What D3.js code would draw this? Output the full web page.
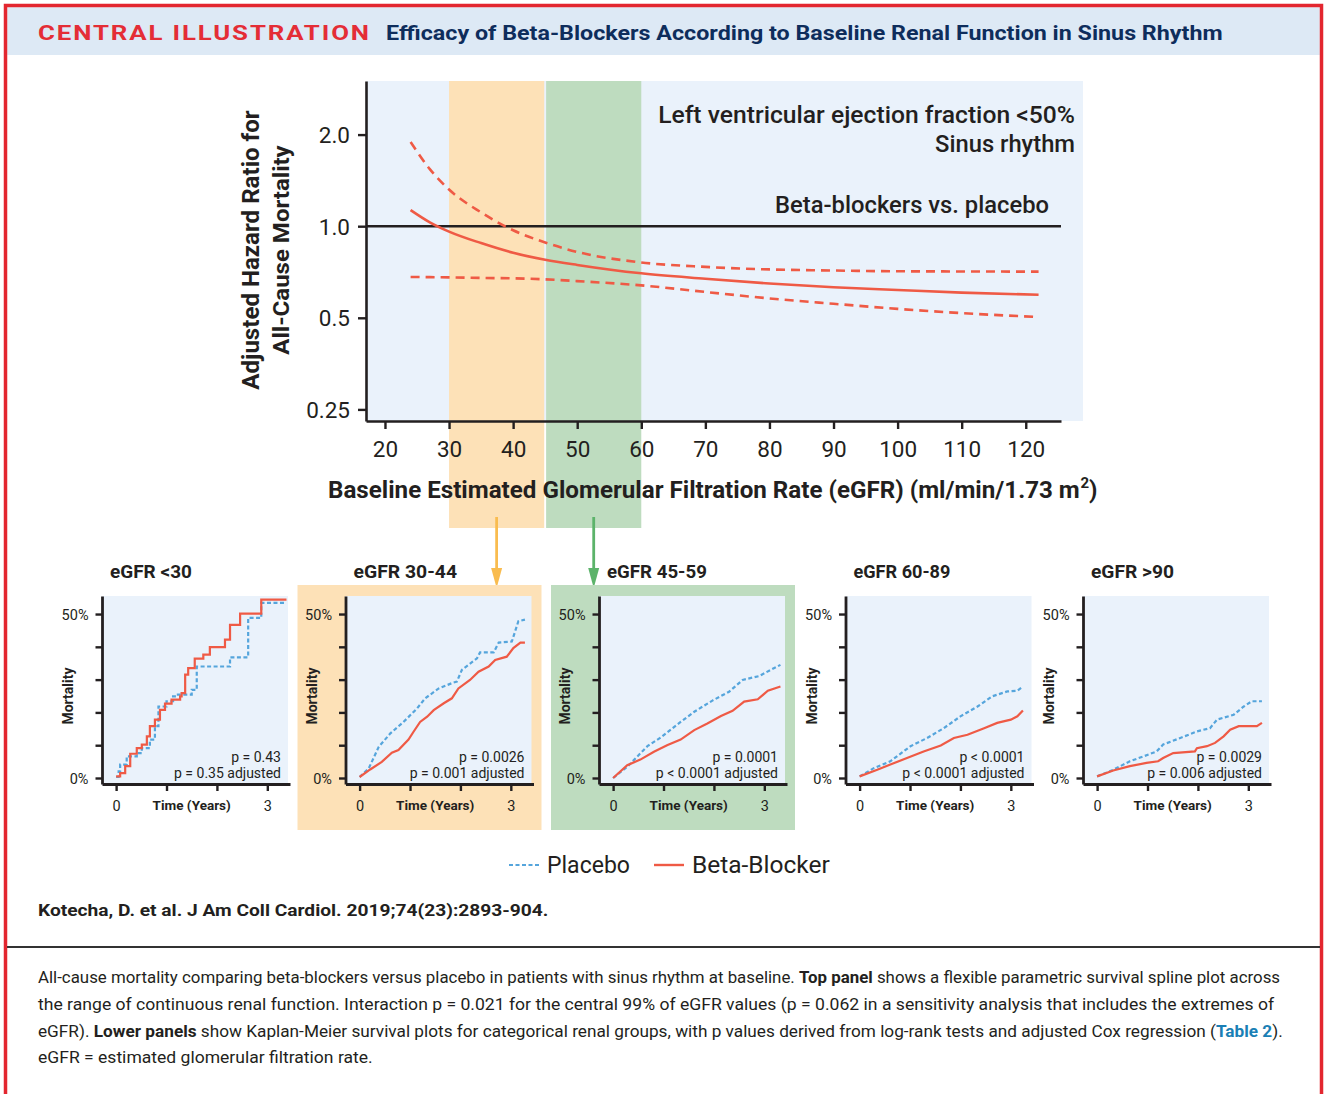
<!DOCTYPE html>
<html><head><meta charset="utf-8">
<script src="https://cdn.jsdelivr.net/npm/d3@7"></script>
<style>
body{margin:0;background:#fff}
svg{display:block}
text{font-family:Roboto,"Open Sans","DejaVu Sans",sans-serif;fill:#231f20}
</style></head>
<body><svg id="c" width="1325" height="1094"></svg>
<script>
// ---------------- DATA ----------------
const hrTicks = [0.25, 0.5, 1.0, 2.0];
const hrTickLabels = ["0.25", "0.5", "1.0", "2.0"];
const egfrTicks = [20, 30, 40, 50, 60, 70, 80, 90, 100, 110, 120];
const splineEgfr = [24, 27, 30, 35, 40, 45, 50, 60, 70, 80, 90, 100, 110, 122];
const hrEstimate = [1.13, 1.03, 0.96, 0.88, 0.818, 0.776, 0.746, 0.70, 0.672, 0.648, 0.630, 0.617, 0.605, 0.595];
const hrUpper    = [1.89, 1.54, 1.32, 1.11, 0.97, 0.884, 0.823, 0.76, 0.735, 0.721, 0.715, 0.711, 0.710, 0.709];
const hrLower    = [0.681, 0.680, 0.679, 0.676, 0.674, 0.669, 0.660, 0.639, 0.608, 0.579, 0.556, 0.535, 0.518, 0.503];
const bandRanges = [[30, 44.85], [45.15, 60]];

const panelTitles = ["eGFR <30", "eGFR 30-44", "eGFR 45-59", "eGFR 60-89", "eGFR >90"];
const pLogRank = ["p = 0.43", "p = 0.0026", "p = 0.0001", "p < 0.0001", "p = 0.0029"];
const pAdjusted = ["p = 0.35 adjusted", "p = 0.001 adjusted", "p < 0.0001 adjusted", "p < 0.0001 adjusted", "p = 0.006 adjusted"];
const timeTicks = [0, 1, 2, 3];
const mortTicks = [0, 10, 20, 30, 40, 50];

// Kaplan-Meier curves: [years, mortality %]
const placeboLt30 = [[0,0.3],[0.05,2],[0.08,4.1],[0.21,6.6],[0.41,7.6],[0.51,9.1],[0.67,11.7],[0.77,15.8],[0.84,21.8],[1.0,23.4],[1.13,24.9],[1.2,25.4],[1.5,26.9],[1.6,34.0],[2.26,36.8],[2.62,48.8],[2.88,53.4],[3.35,53.4]];
const betaLt30 = [[0,0.5],[0.08,1.5],[0.18,3.6],[0.28,7.4],[0.41,9.1],[0.51,10.2],[0.61,12.7],[0.67,15.8],[0.77,17.8],[0.87,20.8],[0.97,22.7],[1.1,23.9],[1.27,24.9],[1.3,25.9],[1.37,31.5],[1.43,33.5],[1.56,36.4],[1.73,37.6],[1.86,39.9],[2.16,42.2],[2.26,46.7],[2.46,50.1],[2.88,54.4],[3.38,54.4]];
const placebo30to44 = [[0,0.3],[0.18,2.9],[0.38,9.5],[0.61,13.6],[0.87,17.1],[1.14,21.2],[1.3,24.3],[1.57,27.3],[1.86,29.1],[1.93,29.4],[2.03,33.0],[2.33,36.5],[2.39,38.3],[2.66,38.3],[2.76,41.3],[3.02,41.6],[3.15,47.8],[3.28,48.3]];
const beta30to44 = [[0,0.3],[0.21,2.6],[0.44,4.9],[0.64,7.7],[0.77,8.5],[0.97,11.7],[1.07,14.1],[1.2,17.1],[1.34,18.7],[1.47,20.7],[1.67,22.8],[1.83,24.3],[1.96,27.3],[2.19,29.9],[2.36,32.4],[2.56,34.0],[2.69,36.0],[2.92,37.0],[3.05,39.6],[3.19,41.3],[3.28,41.3]];
const placebo45to59 = [[0,0],[0.28,3.4],[0.68,9.7],[0.94,12.3],[1.34,17.1],[1.61,20.2],[1.97,23.6],[2.3,26.3],[2.57,29.9],[2.9,31.1],[3.13,33.0],[3.32,34.5]];
const beta45to59 = [[0,0],[0.28,3.9],[0.54,5.6],[0.81,8.0],[1.07,10.0],[1.34,11.7],[1.61,14.6],[1.87,16.6],[2.14,18.9],[2.37,20.5],[2.6,23.3],[2.87,24.0],[3.07,26.6],[3.32,27.9]];
const placebo60to89 = [[0,0.5],[0.28,3.0],[0.61,5.1],[1.01,9.7],[1.34,12.2],[1.67,15.2],[2.0,18.8],[2.34,21.8],[2.63,24.9],[2.93,26.4],[3.13,26.6],[3.24,27.9]];
const beta60to89 = [[0,0.5],[0.35,2.5],[0.61,4.1],[0.94,6.1],[1.27,8.1],[1.61,9.9],[1.87,12.2],[2.14,13.2],[2.47,15.2],[2.73,16.8],[3.0,17.8],[3.13,18.8],[3.24,20.6]];
const placeboGt90 = [[0,0.5],[0.32,2.5],[0.65,5.1],[0.92,6.6],[1.18,8.1],[1.31,10.2],[1.65,12.2],[1.98,14.2],[2.24,15.2],[2.38,17.8],[2.71,19.3],[2.91,21.8],[3.07,23.4],[3.27,23.4]];
const betaGt90 = [[0,0.5],[0.32,2.3],[0.65,3.6],[0.98,4.6],[1.21,5.1],[1.31,6.1],[1.51,7.6],[1.94,8.1],[1.98,9.1],[2.18,9.7],[2.34,10.7],[2.51,12.7],[2.64,14.7],[2.81,15.8],[3.17,15.8],[3.27,16.8]];

const kmPlacebo = [placeboLt30, placebo30to44, placebo45to59, placebo60to89, placeboGt90];
const kmBeta = [betaLt30, beta30to44, beta45to59, beta60to89, betaGt90];

const legendLabels = ["Placebo", "Beta-Blocker"];
const headerLabel = "CENTRAL ILLUSTRATION";
const headerTitle = "Efficacy of Beta-Blockers According to Baseline Renal Function in Sinus Rhythm";
const citation = "Kotecha, D. et al. J Am Coll Cardiol. 2019;74(23):2893-904.";

// ---------------- STYLE / LAYOUT ----------------
const RED = "#ef5a45", BLUE = "#55a5dc", INK = "#231f20";
const PLOT_BG = "#eaf2fb", ORANGE = "#fde1b7", GREEN = "#bedcbf";
const panelAxisX = [102, 345.5, 599, 845.5, 1083];
const panelFill = [null, ORANGE, GREEN, null, null];
const panelCurve = [d3.curveStepAfter, d3.curveLinear, d3.curveLinear, d3.curveLinear, d3.curveLinear];
const panelTitleW = [82, 104, 100, 97, 83];

const svg = d3.select("#c");

function fit(sel, w) {
  const n = sel.node();
  const bw = n.getBBox().width;
  if (!bw) return sel;
  const k = w / bw;
  const x = +sel.attr("x") || 0;
  sel.attr("transform", `translate(${x * (1 - k)},0) scale(${k},1)`);
  return sel;
}

// Outer frame and header
svg.append("rect").attr("x", 7.25).attr("y", 7.25).attr("width", 1312.5).attr("height", 47.75).attr("fill", "#dde9f5");
svg.append("rect").attr("x", 5.5).attr("y", 5.5).attr("width", 1316).attr("height", 1100)
  .attr("fill", "none").attr("stroke", "#e3262f").attr("stroke-width", 3.5);
fit(svg.append("text").attr("x", 38).attr("y", 40).attr("font-size", 20.5).attr("font-weight", 700)
  .style("fill", "#e42d36").style("letter-spacing", "1.5px").text(headerLabel), 333);
fit(svg.append("text").attr("x", 386).attr("y", 40).attr("font-size", 20.5).attr("font-weight", 700)
  .style("fill", "#0e2d5c").text(headerTitle), 837);

// ---------------- TOP PANEL ----------------
const x = d3.scaleLinear().domain([17.04, 125.5]).range([366, 1061]);
const y = d3.scaleLog().domain([0.229, 3.0]).range([421, 81]);

svg.append("rect").attr("x", 366).attr("y", 81).attr("width", 717).attr("height", 340).attr("fill", PLOT_BG);
const bandColors = [ORANGE, GREEN];
svg.selectAll("rect.band").data(bandRanges).join("rect").attr("class", "band")
  .attr("x", d => x(d[0])).attr("width", d => x(d[1]) - x(d[0]))
  .attr("y", 81).attr("height", 447).attr("fill", (d, i) => bandColors[i]);

// reference line HR = 1
svg.append("line").attr("x1", x.range()[0]).attr("x2", x.range()[1]).attr("y1", y(1)).attr("y2", y(1))
  .attr("stroke", INK).attr("stroke-width", 2.5);

const hrLine = vals => d3.line().curve(d3.curveMonotoneX)
  .x((d, i) => x(splineEgfr[i])).y(d => y(d))(vals);
svg.append("path").attr("d", hrLine(hrUpper)).attr("fill", "none").attr("stroke", RED).attr("stroke-width", 2.6).attr("stroke-dasharray", "9,6");
svg.append("path").attr("d", hrLine(hrLower)).attr("fill", "none").attr("stroke", RED).attr("stroke-width", 2.6).attr("stroke-dasharray", "9,6");
svg.append("path").attr("d", hrLine(hrEstimate)).attr("fill", "none").attr("stroke", RED).attr("stroke-width", 2.6);

const yAxis = svg.append("g").attr("transform", `translate(366,0)`)
  .call(d3.axisLeft(y).tickValues(hrTicks).tickFormat((d, i) => hrTickLabels[i]).tickSize(8).tickSizeOuter(0).tickPadding(8));
const xAxis = svg.append("g").attr("transform", `translate(0,421)`)
  .call(d3.axisBottom(x).tickValues(egfrTicks).tickSize(8).tickSizeOuter(0).tickPadding(12));
[yAxis, xAxis].forEach(a => {
  a.select(".domain").attr("stroke", INK).attr("stroke-width", 2.6);
  a.selectAll(".tick line").attr("stroke", INK).attr("stroke-width", 2.4);
  a.selectAll(".tick text").attr("font-size", 22.5).attr("font-family", null).style("fill", INK);
});
yAxis.selectAll(".tick text").attr("dy", "0.36em");

// annotations
fit(svg.append("text").attr("x", 1075).attr("y", 123).attr("text-anchor", "end").attr("font-size", 24).attr("font-weight", 500)
  .text("Left ventricular ejection fraction <50%"), 417);
fit(svg.append("text").attr("x", 1075).attr("y", 152).attr("text-anchor", "end").attr("font-size", 24).attr("font-weight", 500)
  .text("Sinus rhythm"), 140);
fit(svg.append("text").attr("x", 1049).attr("y", 213).attr("text-anchor", "end").attr("font-size", 24).attr("font-weight", 500)
  .text("Beta-blockers vs. placebo"), 274);

// axis titles
const yt = svg.append("g").attr("transform", "translate(0,250)");
fit(yt.append("g").attr("transform", "translate(259,0) rotate(-90)").append("text").attr("x", 0)
  .attr("text-anchor", "middle").attr("font-size", 23).attr("font-weight", 700).text("Adjusted Hazard Ratio for"), 280);
fit(yt.append("g").attr("transform", "translate(289,0) rotate(-90)").append("text").attr("x", 0)
  .attr("text-anchor", "middle").attr("font-size", 23).attr("font-weight", 700).text("All-Cause Mortality"), 210);

fit(svg.append("text").attr("x", 328).attr("y", 498).attr("font-size", 24).attr("font-weight", 700)
  .text("Baseline Estimated Glomerular Filtration Rate (eGFR) (ml/min/1.73 m"), 752);
svg.append("text").attr("x", 1080.5).attr("y", 488).attr("font-size", 15).attr("font-weight", 700).text("2");
svg.append("text").attr("x", 1089).attr("y", 498).attr("font-size", 24).attr("font-weight", 700).text(")");

// arrows from bands to panels
const arrowColors = ["#f9bc4f", "#5cb36a"];
bandRanges.forEach((b, i) => {
  const cx = x((b[0] + b[1]) / 2);
  svg.append("line").attr("x1", cx).attr("x2", cx).attr("y1", 517).attr("y2", 570)
    .attr("stroke", arrowColors[i]).attr("stroke-width", 2.8);
  svg.append("path").attr("d", `M${cx - 5.5},568 L${cx + 5.5},568 L${cx},588 Z`).attr("fill", arrowColors[i]);
});

// ---------------- LOWER PANELS ----------------
panelTitles.forEach((title, i) => {
  const ax = panelAxisX[i];
  const g = svg.append("g");
  if (panelFill[i]) g.append("rect").attr("x", ax - 48).attr("y", 585).attr("width", 244).attr("height", 245).attr("fill", panelFill[i]);
  const px = d3.scaleLinear().domain([-0.28, 3.45]).range([ax, ax + 188]);
  const py = d3.scaleLinear().domain([-1.83, 55.5]).range([784, 596]);
  g.append("rect").attr("x", ax).attr("y", 596).attr("width", 186).attr("height", 188).attr("fill", PLOT_BG);

  const line = d3.line().curve(panelCurve[i]).x(d => px(d[0])).y(d => py(d[1]));
  g.append("path").attr("d", line(kmPlacebo[i])).attr("fill", "none").attr("stroke", BLUE)
    .attr("stroke-width", 2.2).attr("stroke-dasharray", "4,2.5");
  g.append("path").attr("d", line(kmBeta[i])).attr("fill", "none").attr("stroke", RED).attr("stroke-width", 2.2);

  const ya = g.append("g").attr("transform", `translate(${ax},0)`)
    .call(d3.axisLeft(py).tickValues(mortTicks).tickSize(6.5).tickSizeOuter(0).tickPadding(7)
      .tickFormat(d => (d === 0 || d === 50) ? d + "%" : ""));
  const xa = g.append("g").attr("transform", `translate(0,784)`)
    .call(d3.axisBottom(px).tickValues(timeTicks).tickSize(7).tickSizeOuter(0).tickPadding(10)
      .tickFormat(d => (d === 0 || d === 3) ? d : ""));
  [ya, xa].forEach(a => {
    a.select(".domain").attr("stroke", INK).attr("stroke-width", 2.8);
    a.selectAll(".tick line").attr("stroke", INK).attr("stroke-width", 2.4);
    a.selectAll(".tick text").attr("font-size", 14.5).attr("font-family", null).style("fill", INK);
  });
  ya.selectAll(".tick text").attr("dy", "0.36em");

  g.append("text").attr("x", px(1.5)).attr("y", 810).attr("text-anchor", "middle")
    .attr("font-size", 13.5).attr("font-weight", 700).text("Time (Years)");
  g.append("g").attr("transform", `translate(${ax - 29},${py(25)}) rotate(-90)`).append("text")
    .attr("text-anchor", "middle").attr("font-size", 14).attr("font-weight", 700).text("Mortality");
  fit(g.append("text").attr("x", ax + 8).attr("y", 578).attr("font-size", 18.5).attr("font-weight", 700).text(title), panelTitleW[i]);
  g.append("text").attr("x", ax + 179).attr("y", 762).attr("text-anchor", "end").attr("font-size", 14).text(pLogRank[i]);
  g.append("text").attr("x", ax + 179).attr("y", 778).attr("text-anchor", "end").attr("font-size", 14).text(pAdjusted[i]);
});

// ---------------- LEGEND ----------------
svg.append("line").attr("x1", 509).attr("x2", 540).attr("y1", 865).attr("y2", 865)
  .attr("stroke", BLUE).attr("stroke-width", 2.2).attr("stroke-dasharray", "4,2.5");
fit(svg.append("text").attr("x", 547).attr("y", 873).attr("font-size", 23).text(legendLabels[0]), 83);
svg.append("line").attr("x1", 654).attr("x2", 684).attr("y1", 865).attr("y2", 865)
  .attr("stroke", RED).attr("stroke-width", 2.4);
fit(svg.append("text").attr("x", 692).attr("y", 873).attr("font-size", 23).text(legendLabels[1]), 138);

// ---------------- CITATION / CAPTION ----------------
fit(svg.append("text").attr("x", 38).attr("y", 916).attr("font-size", 17).attr("font-weight", 700).text(citation), 511);
svg.append("line").attr("x1", 7).attr("x2", 1320).attr("y1", 947).attr("y2", 947).attr("stroke", "#333").attr("stroke-width", 2);

const captionLines = [
  [["All-cause mortality comparing beta-blockers versus placebo in patients with sinus rhythm at baseline. ", 0], ["Top panel", 1], [" shows a flexible parametric survival spline plot across", 0]],
  [["the range of continuous renal function. Interaction p = 0.021 for the central 99% of eGFR values (p = 0.062 in a sensitivity analysis that includes the extremes of", 0]],
  [["eGFR). ", 0], ["Lower panels", 1], [" show Kaplan-Meier survival plots for categorical renal groups, with p values derived from log-rank tests and adjusted Cox regression (", 0], ["Table 2", 2], [").", 0]],
  [["eGFR = estimated glomerular filtration rate.", 0]]
];
const captionWidths = [1243, 1237, 1245, 335];
const captionBase = [983, 1010, 1037, 1063];
captionLines.forEach((parts, i) => {
  const t = svg.append("text").attr("x", 38).attr("y", captionBase[i]).attr("font-size", 16.5);
  parts.forEach(p => {
    const ts = t.append("tspan").text(p[0]);
    if (p[1] >= 1) ts.attr("font-weight", 700);
    if (p[1] === 2) ts.style("fill", "#1a7fb5");
  });
  fit(t, captionWidths[i]);
});
</script></body></html>
